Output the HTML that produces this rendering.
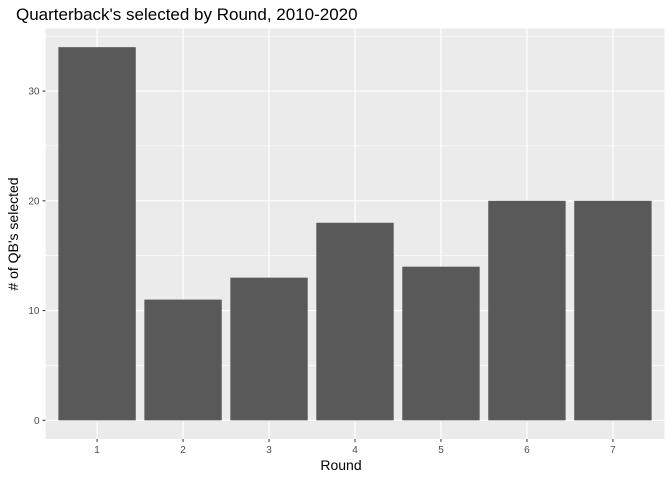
<!DOCTYPE html>
<html><head><meta charset="utf-8"><style>
body{margin:0;background:#fff}
svg{display:block;font-family:"Liberation Sans",Arial,sans-serif}
</style></head><body>
<svg id="chart" width="672" height="480">
<text x="16" y="20" font-size="17" fill="#000">Quarterback's selected by Round, 2010-2020</text>
<rect x="45.5" y="28.5" width="619" height="410.5" fill="#ebebeb"/>
<g id="grid"></g>
<g id="bars"></g>
<g id="axes"></g>
<text x="341" y="470" font-size="14" text-anchor="middle" fill="#000">Round</text>
<text transform="translate(18,234) rotate(-90)" font-size="14" text-anchor="middle" fill="#000"># of QB's selected</text>
</svg>
<script>
const categories=["1","2","3","4","5","6","7"];
const values=[34,11,13,18,14,20,20];
const yTicks=[0,10,20,30];
const yMinor=[5,15,25,35];
const NS="http://www.w3.org/2000/svg";
const pL=45.5,pR=664.5,pT=28.5,pB=439;
const yMin=-1.7,yMax=35.7;
function ys(v){return pB-(v-yMin)/(yMax-yMin)*(pB-pT);}
const step=(pR-pL)/(categories.length+0.2);
function xs(i){return pL+step*(0.6+i);}
function mk(tag,attrs,parent){const e=document.createElementNS(NS,tag);for(const k in attrs)e.setAttribute(k,attrs[k]);parent.appendChild(e);return e;}
const grid=document.getElementById('grid'),bars=document.getElementById('bars'),axes=document.getElementById('axes');
yMinor.forEach(v=>{if(ys(v)<pT)return;const l=mk('line',{x1:pL,x2:pR,y1:ys(v),y2:ys(v),stroke:'#fff','stroke-width':0.6},grid);

});
yTicks.forEach(v=>{const l=mk('line',{x1:pL,x2:pR,y1:ys(v),y2:ys(v),stroke:'#fff','stroke-width':1.2},grid);


const t=mk('line',{x1:pL-3,x2:pL,y1:ys(v),y2:ys(v),stroke:'#333','stroke-width':1},axes);


const tx=mk('text',{x:pL-6,y:ys(v)+3.5,'font-size':10,'text-anchor':'end',fill:'#4d4d4d'},axes);tx.textContent=v;

});
categories.forEach((c,i)=>{const x=xs(i);
const g=mk('line',{x1:x,x2:x,y1:pT,y2:pB,stroke:'#fff','stroke-width':1.2},grid);


const w=step*0.9;
const b=mk('rect',{x:x-w/2,y:ys(values[i]),width:w,height:ys(0)-ys(values[i]),fill:'#595959'},bars);


const t=mk('line',{x1:x,x2:x,y1:pB,y2:pB+3,stroke:'#333','stroke-width':1},axes);


const tx=mk('text',{x:x,y:pB+14,'font-size':10,'text-anchor':'middle',fill:'#4d4d4d'},axes);tx.textContent=c;

});
</script>
</body></html>
